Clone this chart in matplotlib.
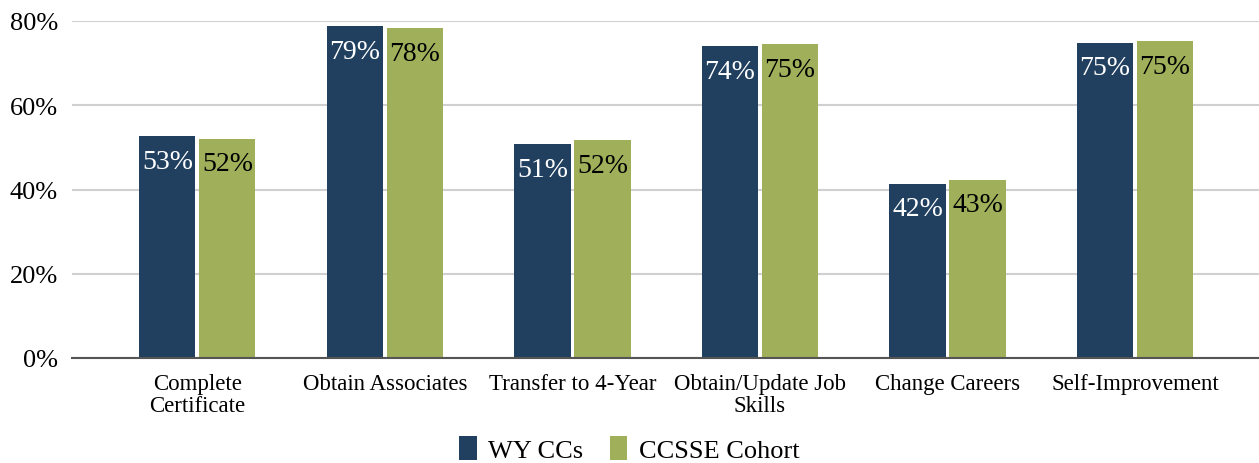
import numpy as np
import matplotlib.pyplot as plt

plt.rcParams['font.family'] = ['Liberation Serif', 'DejaVu Serif']

# data
categories = ['Complete\nCertificate', 'Obtain Associates', 'Transfer to 4-Year',
              'Obtain/Update Job\nSkills', 'Change Careers', 'Self-Improvement']
wy_ccs = [52.7, 78.8, 50.8, 74.0, 41.4, 74.8]
ccsse = [52.0, 78.3, 51.7, 74.5, 42.3, 75.2]
wy_labels = ['53%', '79%', '51%', '74%', '42%', '75%']
ccsse_labels = ['52%', '78%', '52%', '75%', '43%', '75%']

navy = '#21405F'
olive = '#A0AF5A'

fig = plt.figure(figsize=(12.59, 4.64), dpi=100)
ax = fig.add_axes([72 / 1259, 105 / 464, 1187 / 1259, 337 / 464])

x = np.arange(len(categories))
w = 0.299
off = 0.16

b1 = ax.bar(x - off, wy_ccs, w, color=navy, label='WY CCs', zorder=3)
b2 = ax.bar(x + off, ccsse, w, color=olive, label='CCSSE Cohort', zorder=3)

for rect, lab in zip(b1, wy_labels):
    ax.annotate(lab, (rect.get_x() + rect.get_width() / 2, rect.get_height()),
                xytext=(0, -9), textcoords='offset points', ha='center', va='top',
                color='white', fontsize=20, zorder=4)
for rect, lab in zip(b2, ccsse_labels):
    ax.annotate(lab, (rect.get_x() + rect.get_width() / 2, rect.get_height()),
                xytext=(0, -9), textcoords='offset points', ha='center', va='top',
                color='black', fontsize=20, zorder=4)

ax.set_xlim(-0.669, 5.661)
ax.set_ylim(0, 80)
ax.set_yticks([0, 20, 40, 60, 80])
ax.set_yticklabels(['0%', '20%', '40%', '60%', '80%'], fontsize=19)
ax.set_xticks(x)
ax.set_xticklabels(categories, fontsize=16.5, linespacing=1.05)
ax.tick_params(axis='both', length=0)
ax.tick_params(axis='x', pad=11)
ax.tick_params(axis='y', pad=10)

ax.grid(axis='y', color='#D0D0D0', linewidth=1.5, zorder=0)
for s in ['top', 'right', 'left']:
    ax.spines[s].set_visible(False)
ax.spines['bottom'].set_color('#555555')
ax.spines['bottom'].set_linewidth(1.5)
ax.spines['bottom'].set_zorder(5)

fig.legend(handles=[b1, b2], loc='center', bbox_to_anchor=(0.5, 1 - 450 / 464),
           ncol=2, frameon=False, fontsize=19, handlelength=0.65, handleheight=1.0,
           handletextpad=0.45, columnspacing=1.0, borderpad=0.2)

fig.savefig('out.png', dpi=100)
